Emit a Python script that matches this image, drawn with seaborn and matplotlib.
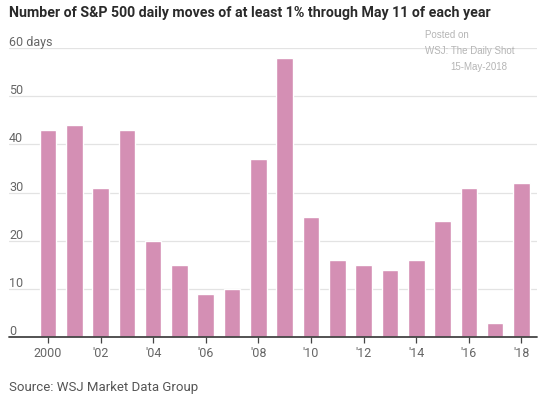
import matplotlib.pyplot as plt
import seaborn as sns
import pandas as pd
from matplotlib import font_manager

# Datos
years = [str(y) for y in range(2000, 2019)]
moves = [43, 44, 31, 43, 20, 15, 9, 10, 37, 58, 25, 16, 15, 14, 16, 24, 31, 3, 32]
year_labels = ["2000", "'02", "'04", "'06", "'08", "'10", "'12", "'14", "'16", "'18"]
y_ticks = [0, 10, 20, 30, 40, 50, 60]
y_tick_labels = ["0", "10", "20", "30", "40", "50", "60 days"]

BAR_COLOR = "#d48fb4"
W, H = 540, 398

sns.set_theme(style="white")
installed = {f.name for f in font_manager.fontManager.ttflist}
narrow = "Liberation Sans Narrow" if "Liberation Sans Narrow" in installed else "Roboto"
plt.rcParams["font.family"] = [narrow, "DejaVu Sans"]

df = pd.DataFrame({"year": years, "moves": moves})

fig = plt.figure(figsize=(W / 100, H / 100), dpi=100)
ax = fig.add_axes([9 / W, (H - 337) / H, (537 - 9) / W, (337 - 48) / H])

sns.barplot(data=df, x="year", y="moves", color=BAR_COLOR, width=0.63,
            saturation=1, ax=ax, zorder=3)

ax.set_xlim(-1.48, 18.59)
ax.set_ylim(0, 60)
for s in ax.spines.values():
    s.set_visible(False)

# Lineas de cuadricula y base
for t in y_ticks[1:]:
    ax.axhline(t, color="#e3e3e3", lw=0.9, zorder=1)
ax.axhline(0, color="#444444", lw=1.3, zorder=4, clip_on=False)

# Etiquetas del eje y encima de cada linea
ax.set_yticks([])
ax.set_ylabel("")
for t, lab in zip(y_ticks, y_tick_labels):
    ax.text(0, t + 0.4, lab, transform=ax.get_yaxis_transform(),
            ha="left", va="baseline", fontsize=9, color="#666666")

ax.set_xticks(range(0, len(years), 2))
ax.set_xticklabels(year_labels)
ax.set_xlabel("")
ax.tick_params(axis="x", length=4, width=0.9, color="#444444", direction="out",
               labelsize=9, labelcolor="#666666", pad=3, bottom=True)

fig.text(9 / W, 1 - 13 / H,
         "Number of S&P 500 daily moves of at least 1% through May 11 of each year",
         ha="left", va="center", fontsize=10.2, fontweight="bold", color="#2a2a2a")
fig.text(9 / W, 1 - 388 / H, "Source: WSJ Market Data Group",
         ha="left", va="center", fontsize=9.5, color="#555555")

wm = dict(fontsize=7, color="#b5b5b5", family=["Liberation Sans", "DejaVu Sans"], va="center")
fig.text(425 / W, 1 - 35 / H, "Posted on", ha="left", **wm)
fig.text(425 / W, 1 - 51 / H, "WSJ: The Daily Shot", ha="left", **wm)
fig.text(507 / W, 1 - 67 / H, "15-May-2018", ha="right", **wm)

fig.savefig("out.png", dpi=100)
plt.close(fig)
